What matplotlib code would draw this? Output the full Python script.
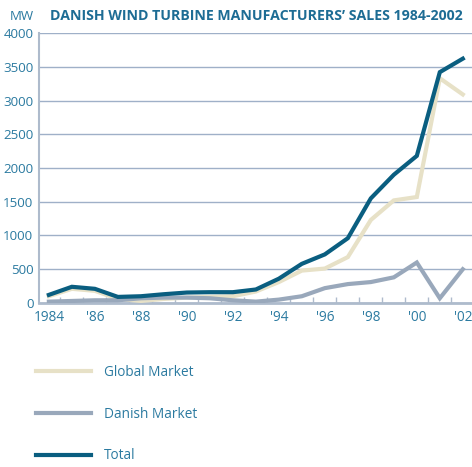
import numpy as np
import matplotlib.pyplot as plt
from matplotlib.ticker import MultipleLocator, FixedLocator

# Years and sales (MW)
years = list(range(1984, 2003))
global_market = [100, 210, 180, 60, 30, 60, 80, 90, 100, 170, 310, 480, 510, 680, 1230, 1520, 1570, 3330, 3090]
danish_market = [20, 30, 40, 40, 70, 80, 80, 70, 40, 20, 50, 100, 220, 280, 310, 380, 600, 70, 500]
total = [120, 240, 210, 90, 100, 130, 155, 160, 160, 200, 360, 580, 720, 960, 1550, 1900, 2180, 3420, 3620]

x_ticks = [1984, 1986, 1988, 1990, 1992, 1994, 1996, 1998, 2000, 2002]
x_labels = ['1984', "'86", "'88", "'90", "'92", "'94", "'96", "'98", "'00", "'02"]

plt.rcParams['font.family'] = ['Open Sans', 'DejaVu Sans']

c_total = '#0a5e80'
c_global = '#e7e1c7'
c_danish = '#99a8bb'
c_text = '#2b7aa0'
c_title = '#1d6c94'
c_grid = '#9fb0c8'

fig = plt.figure(figsize=(4.72, 4.67), dpi=100)
ax = fig.add_axes([0.0826, 0.3512, 0.9174, 0.5781])

ax.plot(years, global_market, color=c_global, lw=3, solid_joinstyle='miter', label='Global Market', zorder=3)
ax.plot(years, danish_market, color=c_danish, lw=3, solid_joinstyle='miter', label='Danish Market', zorder=4)
ax.plot(years, total, color=c_total, lw=3, solid_joinstyle='miter', label='Total', zorder=5)

ax.set_xlim(1983.57, 2002.4)
ax.set_ylim(0, 4000)
ax.yaxis.set_major_locator(MultipleLocator(500))
ax.set_xticks(x_ticks)
ax.set_xticklabels(x_labels)
ax.xaxis.set_minor_locator(FixedLocator(np.arange(1984.5, 2002, 1)))

ax.grid(axis='y', color=c_grid, lw=1)
ax.set_axisbelow(True)
for s in ['top', 'right']:
    ax.spines[s].set_visible(False)
ax.spines['left'].set_color('#aebbcc')
ax.spines['left'].set_linewidth(1.5)
ax.spines['bottom'].set_color('#aebbcc')
ax.spines['bottom'].set_linewidth(2)

ax.tick_params(axis='y', length=0, pad=4, labelsize=9.6, labelcolor=c_text)
ax.tick_params(axis='x', which='major', length=0, pad=5, labelsize=9.8, labelcolor=c_text)
ax.tick_params(axis='x', which='minor', direction='in', length=4, width=1, color='#aebbcc')

fig.text(0.021, 0.965, 'MW', color=c_text, fontsize=9.5, va='center', ha='left')
fig.text(0.106, 0.965, 'DANISH WIND TURBINE MANUFACTURERS\u2019 SALES 1984-2002',
         color=c_title, fontsize=10.2, fontweight='bold', va='center', ha='left')

ax.legend(loc='upper left', bbox_to_anchor=(0.077, 0.218), bbox_transform=fig.transFigure,
          frameon=False, handlelength=4.0, handletextpad=0.95, labelspacing=1.95,
          fontsize=9.8, labelcolor=c_text, borderaxespad=0, borderpad=0)

fig.savefig('out.png', dpi=100)
